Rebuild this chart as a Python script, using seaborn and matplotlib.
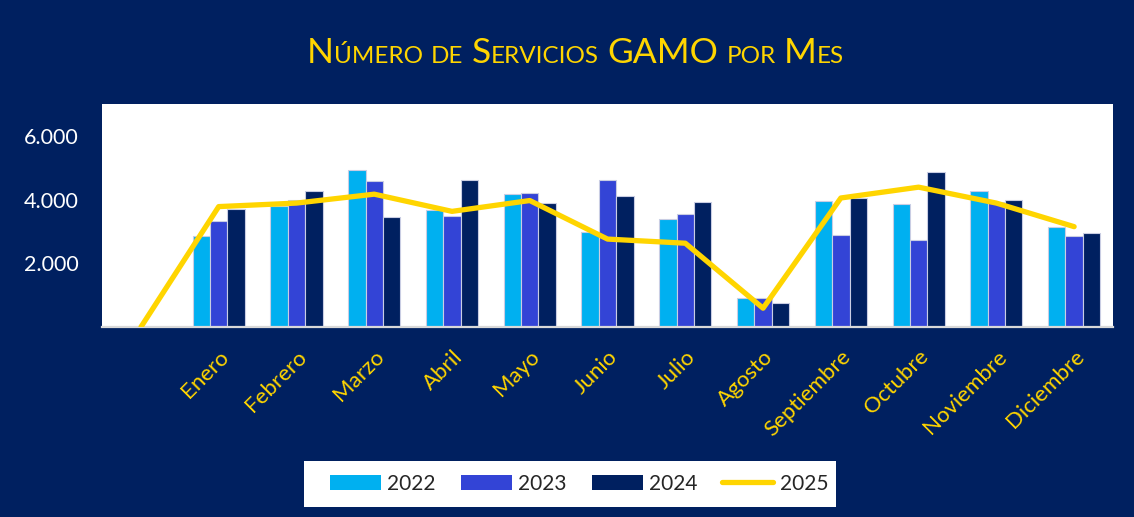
import numpy as np
import pandas as pd
import matplotlib
matplotlib.use("Agg")
import matplotlib.pyplot as plt
import seaborn as sns
from matplotlib.patches import Patch, Rectangle
from matplotlib.lines import Line2D
from matplotlib.ticker import FuncFormatter

# ---- data ----
months = ["", "Enero", "Febrero", "Marzo", "Abril", "Mayo", "Junio", "Julio",
          "Agosto", "Septiembre", "Octubre", "Noviembre", "Diciembre"]
v2022 = [np.nan, 2860, 3800, 4940, 3680, 4190, 2970, 3400, 900, 3960, 3870, 4260, 3150]
v2023 = [np.nan, 3320, 4000, 4590, 3490, 4210, 4600, 3550, 900, 2890, 2740, 3930, 2860]
v2024 = [np.nan, 3710, 4280, 3450, 4600, 3880, 4110, 3920, 745, 4050, 4860, 3980, 2950]
v2025 = [0, 3780, 3890, 4170, 3630, 3970, 2760, 2630, 590, 4050, 4390, 3890, 3150]
years = ["2022", "2023", "2024"]
line_year = "2025"
yticks = [2000, 4000, 6000]
title = "Número de Servicios GAMO por Mes"

NAVY = "#002060"
YELLOW = "#FFD500"
palette = {"2022": "#00B0F0", "2023": "#3344D6", "2024": NAVY}

df = pd.DataFrame({
    "Mes": months * 3,
    "Año": [y for y in years for _ in months],
    "Servicios": v2022 + v2023 + v2024,
})

sns.set_style("white")
plt.rcParams["font.family"] = ["Lato", "DejaVu Sans"]

fig = plt.figure(figsize=(11.34, 5.17), dpi=100, facecolor=NAVY)
ax = fig.add_axes([0.09, 0.3675, 0.8915, 0.4313])
ax.set_facecolor("white")

sns.barplot(data=df, x="Mes", y="Servicios", hue="Año", order=months, hue_order=years,
            palette=palette, saturation=1, width=0.67, gap=0, errorbar=None,
            edgecolor="#C9CDE3", linewidth=0.8, legend=False, ax=ax)
sns.lineplot(x=np.arange(len(months)), y=v2025, color=YELLOW, lw=3.8,
             solid_capstyle="round", solid_joinstyle="round", legend=False, ax=ax, zorder=5)

ax.set_xlim(-0.5, len(months) - 0.5)
ax.set_ylim(0, 7000)
ax.set_xlabel("")
ax.set_ylabel("")
for s in ["top", "right", "left"]:
    ax.spines[s].set_visible(False)
ax.spines["bottom"].set_color("#D9D9D9")
ax.spines["bottom"].set_linewidth(1.6)

ax.set_yticks(yticks)
ax.yaxis.set_major_formatter(FuncFormatter(lambda v, p: f"{int(v):,}".replace(",", ".")))
ax.tick_params(axis="y", length=0, pad=17, labelsize=15.5, labelcolor="white")

ax.set_xticks(range(len(months)))
ax.set_xticklabels(months, rotation=45, ha="right", rotation_mode="anchor")
ax.tick_params(axis="x", length=0, pad=14, labelsize=16, labelcolor=YELLOW)

# title in small caps built from pieces
big, small = 25.5, 17.5
pieces = []
for i, word in enumerate(title.split(" ")):
    if word.isupper():
        parts = [(word, big)]
    elif word[0].isupper():
        parts = [(word[0], big), (word[1:].upper(), small)]
    else:
        parts = [(word.upper(), small)]
    for j, (txt, size) in enumerate(parts):
        pieces.append((txt, size, i > 0 and j == 0))

base_y = 0.879
texts = []
for txt, size, gap in pieces:
    if not texts:
        t = fig.text(0.27, base_y, txt, fontsize=size, color=YELLOW, va="baseline", ha="left")
    else:
        t = ax.annotate(txt, xy=(1, base_y), xycoords=(texts[-1], "figure fraction"),
                        xytext=(6 if gap else 0, 0), textcoords="offset points",
                        fontsize=size, color=YELLOW, va="baseline", ha="left",
                        annotation_clip=False)
    texts.append(t)

fig.canvas.draw()
r = fig.canvas.get_renderer()
x0 = texts[0].get_window_extent(r).x0
x1 = texts[-1].get_window_extent(r).x1
width = (x1 - x0) / fig.bbox.width
texts[0].set_x(0.5075 - width / 2)

# legend: white box plus frameless legend
fig.patches.append(Rectangle((304 / 1134, 1 - 507 / 517), 532 / 1134, 46 / 517,
                             transform=fig.transFigure, facecolor="white",
                             edgecolor="none", zorder=0))
handles = [Patch(facecolor=palette[y], edgecolor="none") for y in years]
handles.append(Line2D([], [], color=YELLOW, lw=3.8, solid_capstyle="round"))
leg = fig.legend(handles, years + [line_year], loc="center", bbox_to_anchor=(0.5106, 0.064),
                 ncol=4, frameon=False, fontsize=15, handlelength=2.45, handleheight=0.75,
                 handletextpad=0.3, columnspacing=1.2)

fig.savefig("out.png", dpi=100, facecolor=NAVY)
